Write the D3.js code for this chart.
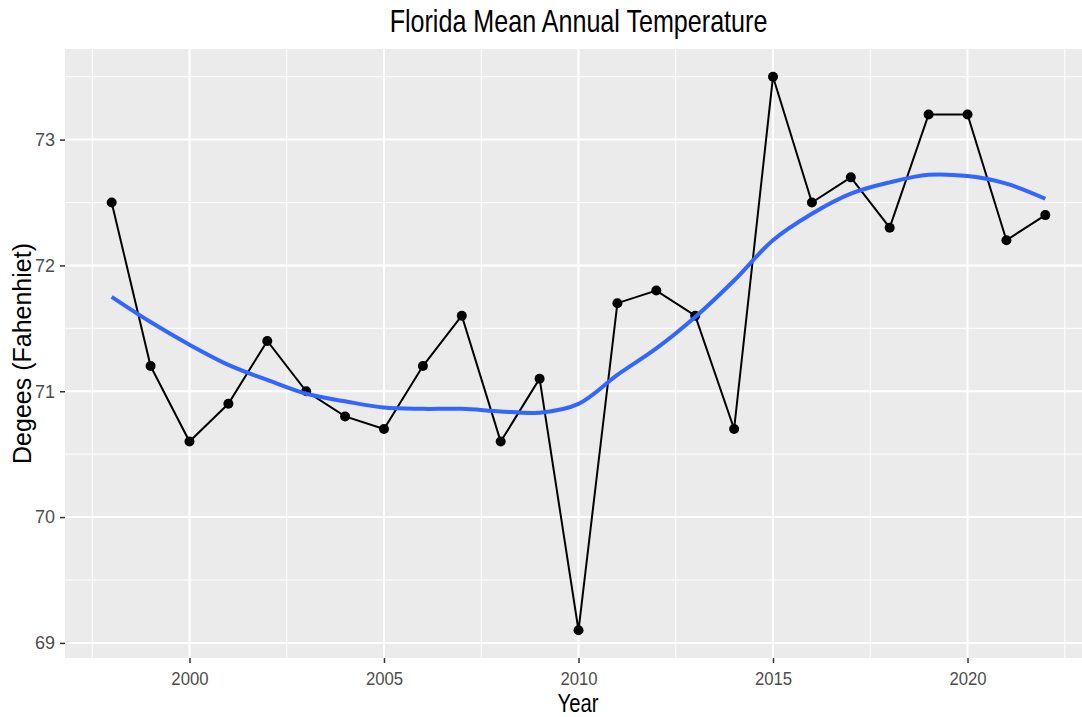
<!DOCTYPE html>
<html>
<head>
<meta charset="utf-8">
<script src="https://cdn.jsdelivr.net/npm/d3@7"></script>
<style>
  body { margin: 0; background: #fff; }
  text { font-family: "Liberation Sans", Arial, sans-serif; }
</style>
</head>
<body>
<div id="chart"></div>
<script>
// data
var years = [1998, 1999, 2000, 2001, 2002, 2003, 2004, 2005, 2006, 2007, 2008, 2009, 2010,
             2011, 2012, 2013, 2014, 2015, 2016, 2017, 2018, 2019, 2020, 2021, 2022];
var temps = [72.5, 71.2, 70.6, 70.9, 71.4, 71.0, 70.8, 70.7, 71.2, 71.6, 70.6, 71.1, 69.1,
             71.7, 71.8, 71.6, 70.7, 73.5, 72.5, 72.7, 72.3, 73.2, 73.2, 72.2, 72.4];
// loess smooth (blue), read at each year
var smooth = [71.75, 71.55, 71.37, 71.21, 71.09, 70.98, 70.92, 70.87, 70.86, 70.86, 70.84, 70.83, 70.90,
              71.13, 71.34, 71.59, 71.88, 72.20, 72.41, 72.57, 72.66, 72.72, 72.71, 72.65, 72.53];
var xTicks = [2000, 2005, 2010, 2015, 2020];
var xMinor = [1997.5, 2002.5, 2007.5, 2012.5, 2017.5, 2022.5];
var yTicks = [69, 70, 71, 72, 73];
var yMinor = [69.5, 70.5, 71.5, 72.5, 73.5];

var W = 1082, H = 717;
var panel = {left: 65, top: 49, right: 1092, bottom: 658};

var svg = d3.select("#chart")
  .append("svg")
    .attr("width", W)
    .attr("height", H);

// scales: ggplot style 5% expansion
var x = d3.scaleLinear()
  .domain([1996.8, 2023.2])
  .range([panel.left, panel.right]);
var y = d3.scaleLinear()
  .domain([68.88, 73.72])
  .range([panel.bottom, panel.top]);

svg.append("clipPath").attr("id", "clip")
  .append("rect")
    .attr("x", panel.left).attr("y", panel.top)
    .attr("width", panel.right - panel.left)
    .attr("height", panel.bottom - panel.top);

var g = svg.append("g").attr("clip-path", "url(#clip)");

// panel background
g.append("rect")
  .attr("x", panel.left).attr("y", panel.top)
  .attr("width", panel.right - panel.left)
  .attr("height", panel.bottom - panel.top)
  .style("fill", "#EBEBEB");

// minor grid
g.selectAll(".xminor").data(xMinor).enter().append("line")
  .attr("x1", function(d) { return x(d); }).attr("x2", function(d) { return x(d); })
  .attr("y1", panel.top).attr("y2", panel.bottom)
  .style("stroke", "#fff").style("stroke-width", 1);
g.selectAll(".yminor").data(yMinor).enter().append("line")
  .attr("y1", function(d) { return y(d); }).attr("y2", function(d) { return y(d); })
  .attr("x1", panel.left).attr("x2", panel.right)
  .style("stroke", "#fff").style("stroke-width", 1);

// major grid
g.selectAll(".xmajor").data(xTicks).enter().append("line")
  .attr("x1", function(d) { return x(d); }).attr("x2", function(d) { return x(d); })
  .attr("y1", panel.top).attr("y2", panel.bottom)
  .style("stroke", "#fff").style("stroke-width", 2);
g.selectAll(".ymajor").data(yTicks).enter().append("line")
  .attr("y1", function(d) { return y(d); }).attr("y2", function(d) { return y(d); })
  .attr("x1", panel.left).attr("x2", panel.right)
  .style("stroke", "#fff").style("stroke-width", 2);

// data line + points
var line = d3.line()
  .x(function(d, i) { return x(years[i]); })
  .y(function(d) { return y(d); });

g.append("path")
  .datum(temps)
  .attr("d", line)
  .style("fill", "none")
  .style("stroke", "#000")
  .style("stroke-width", 2);

g.selectAll(".pt").data(temps).enter().append("circle")
  .attr("cx", function(d, i) { return x(years[i]); })
  .attr("cy", function(d) { return y(d); })
  .attr("r", 5)
  .style("fill", "#000");

// smooth
var smoothLine = d3.line()
  .x(function(d, i) { return x(years[i]); })
  .y(function(d) { return y(d); })
  .curve(d3.curveCatmullRom.alpha(0.5));

g.append("path")
  .datum(smooth)
  .attr("d", smoothLine)
  .style("fill", "none")
  .style("stroke", "#3366FF")
  .style("stroke-width", 4);

// axes
var xAxis = svg.append("g")
  .attr("transform", "translate(0," + panel.bottom + ")")
  .call(d3.axisBottom(x).tickValues(xTicks).tickSize(5).tickPadding(9).tickFormat(d3.format("d")));
xAxis.select(".domain").remove();
xAxis.selectAll(".tick line").style("stroke", "#333").style("stroke-width", 1.5);
xAxis.selectAll(".tick text")
  .attr("transform", "scale(0.93,1)")
  .style("font-family", "'Liberation Sans', Arial, sans-serif")
  .style("font-size", "18px")
  .style("fill", "#4D4D4D");

var yAxis = svg.append("g")
  .attr("transform", "translate(" + panel.left + ",0)")
  .call(d3.axisLeft(y).tickValues(yTicks).tickSize(5).tickPadding(5).tickFormat(d3.format("d")));
yAxis.select(".domain").remove();
yAxis.selectAll(".tick line").style("stroke", "#333").style("stroke-width", 1.5);
yAxis.selectAll(".tick text")
  .style("font-family", "'Liberation Sans', Arial, sans-serif")
  .style("font-size", "18px")
  .style("fill", "#4D4D4D");

// title and labels (condensed look via horizontal scale)
svg.append("text")
  .attr("transform", "translate(" + ((panel.left + panel.right) / 2) + ",32) scale(0.785,1)")
  .attr("text-anchor", "middle")
  .style("font-size", "32px")
  .style("fill", "#000")
  .text("Florida Mean Annual Temperature");

svg.append("text")
  .attr("transform", "translate(578,712) scale(0.81,1)")
  .attr("text-anchor", "middle")
  .style("font-size", "25px")
  .style("fill", "#000")
  .text("Year");

svg.append("text")
  .attr("transform", "translate(31," + ((panel.top + panel.bottom) / 2) + ") rotate(-90)")
  .attr("text-anchor", "middle")
  .style("font-size", "25px")
  .style("fill", "#000")
  .text("Degees (Fahenhiet)");
</script>
</body>
</html>
